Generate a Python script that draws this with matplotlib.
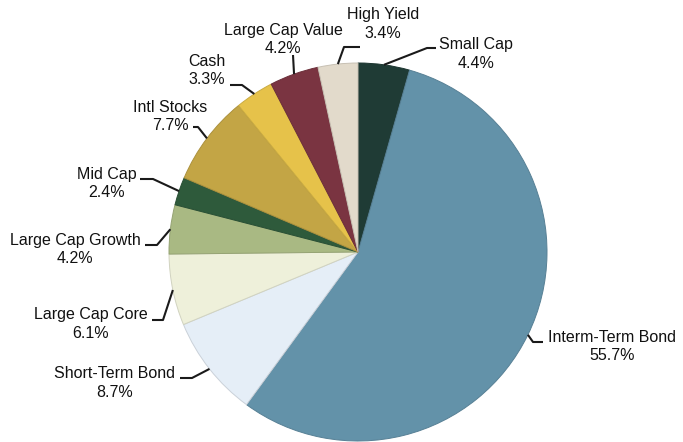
import matplotlib
matplotlib.use("Agg")
import matplotlib.pyplot as plt
import matplotlib.colors as mcolors
import numpy as np

W, H = 683, 442

categories = ["Small Cap", "Interm-Term Bond", "Short-Term Bond", "Large Cap Core",
              "Large Cap Growth", "Mid Cap", "Intl Stocks", "Cash",
              "Large Cap Value", "High Yield"]
shares = [4.4, 55.7, 8.7, 6.1, 4.2, 2.4, 7.7, 3.3, 4.2, 3.4]
colors = ["#1f3b35", "#6392a9", "#e5eef7", "#eef0da", "#a9b983",
          "#2e5a3b", "#c3a545", "#e6c24a", "#7a3441", "#e2dacb"]

# label layout in pixel units (x, y from top): text centre, leader elbow, leader end
label_pos = [(476, 45), (612, 337), (115, 374), (91, 315), (75, 240),
             (107, 174), (170, 107), (207, 61), (283, 30), (383, 15)]
elbows = [(427, 48), (533, 342), (192, 378), (163, 320), (157, 245),
          (153, 179), (198, 127), (242, 85), (293, 55), (344, 47)]
ends = [(436, 48), (543, 342), (180, 378), (152, 320), (145, 245),
        (140, 179), (193, 127), (230, 85), (293, 55), (360, 47)]
line_gap = 18.5

plt.rcParams["font.family"] = ["Liberation Sans", "DejaVu Sans"]

fig = plt.figure(figsize=(W / 100, H / 100), dpi=100)
ax = fig.add_axes([0, 0, 1, 1])

cx, cy, r = 358, H - 252, 189


def darker(c, f=0.8):
    rgb = np.array(mcolors.to_rgb(c))
    return tuple(rgb * f)


wedges, _ = ax.pie(shares, colors=colors, startangle=90, counterclock=False,
                   center=(cx, cy), radius=r,
                   wedgeprops=dict(linewidth=0.7))
for w, c in zip(wedges, colors):
    w.set_edgecolor(darker(c, 0.88))

for w, name, val, (tx, ty), (ex, ey), (hx, hy) in zip(
        wedges, categories, shares, label_pos, elbows, ends):
    mid = np.deg2rad((w.theta1 + w.theta2) / 2)
    px, py = cx + r * np.cos(mid), cy + r * np.sin(mid)
    ax.plot([px, ex, hx], [py, H - ey, H - hy],
            color="#1a1a1a", lw=1.5, solid_capstyle="butt", zorder=3)
    ax.text(tx, H - ty, name, ha="center", va="center",
            fontsize=11.5, color="#111111")
    ax.text(tx, H - ty - line_gap, f"{val:.1f}%", ha="center", va="center",
            fontsize=11.5, color="#111111")

ax.set_xlim(0, W)
ax.set_ylim(0, H)
ax.set_aspect("equal")
ax.axis("off")

fig.savefig("out.png", dpi=100)
